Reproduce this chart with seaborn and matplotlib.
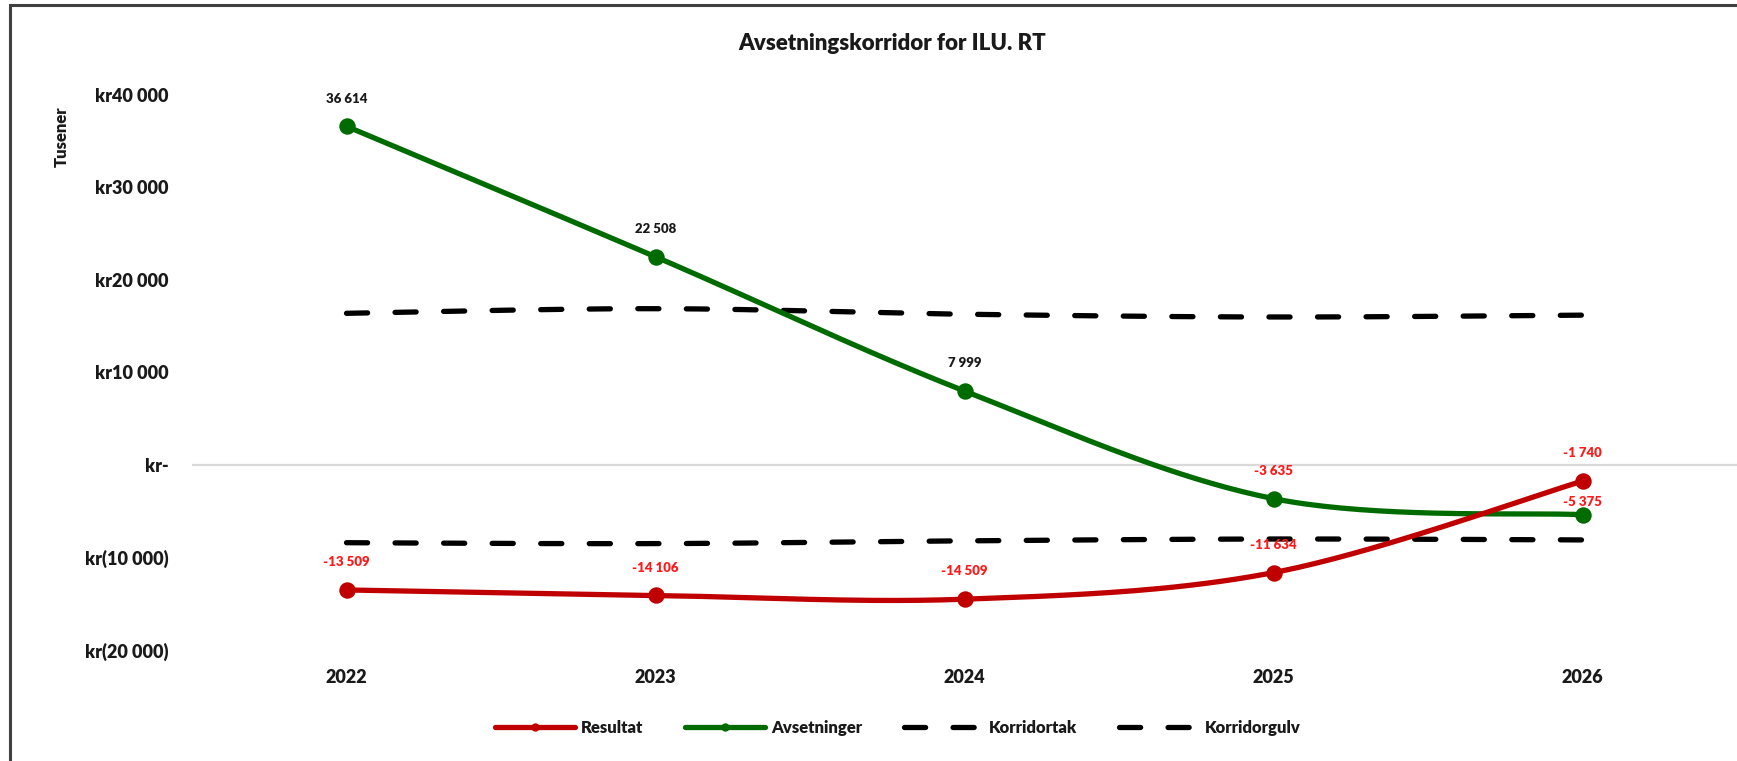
import numpy as np
import pandas as pd
import matplotlib
matplotlib.use("Agg")
import matplotlib.pyplot as plt
from matplotlib.lines import Line2D
from matplotlib.patches import Rectangle
import seaborn as sns

# data
years = ["2022", "2023", "2024", "2025", "2026"]
resultat = [-13509, -14106, -14509, -11634, -1740]
avsetninger = [36614, 22508, 7999, -3635, -5375]
korridortak = [16400, 16900, 16300, 16000, 16200]
korridorgulv = [-8400, -8500, -8200, -8000, -8100]
yticks = [-20000, -10000, 0, 10000, 20000, 30000, 40000]
ytick_labels = ["kr(20 000)", "kr(10 000)", "kr-", "kr10 000", "kr20 000", "kr30 000", "kr40 000"]

RED = "#c00000"
GREEN = "#006b00"
TXT = "#1a1a1a"
LABEL_RED = "#ff1a1a"
WT = "heavy"


def smooth(y, n=40):
    # Excel style smoothed line: cubic bezier with catmull-rom control points
    y = np.asarray(y, dtype=float)
    x = np.arange(len(y), dtype=float)
    px, py = [], []
    for i in range(len(y) - 1):
        x0, y0 = x[i], y[i]
        x3, y3 = x[i + 1], y[i + 1]
        xp, yp = (x[i - 1], y[i - 1]) if i > 0 else (x0, y0)
        xn, yn = (x[i + 2], y[i + 2]) if i + 2 < len(y) else (x3, y3)
        x1, y1 = x0 + (x3 - xp) / 6, y0 + (y3 - yp) / 6
        x2, y2 = x3 - (xn - x0) / 6, y3 - (yn - y0) / 6
        t = np.linspace(0, 1, n, endpoint=(i == len(y) - 2))
        a, b, c, d = (1 - t) ** 3, 3 * (1 - t) ** 2 * t, 3 * (1 - t) * t ** 2, t ** 3
        px.append(a * x0 + b * x1 + c * x2 + d * x3)
        py.append(a * y0 + b * y1 + c * y2 + d * y3)
    return pd.DataFrame({"x": np.concatenate(px), "y": np.concatenate(py)})


sns.set_theme(style="white")
plt.rcParams["font.family"] = ["Lato", "DejaVu Sans"]

W, H = 1737, 761
fig = plt.figure(figsize=(W / 100, H / 100), dpi=100)
ax = fig.add_axes([192 / W, 1 - 650 / H, (W - 192) / W, (650 - 95) / H])

ax.axhline(0, color="#d9d9d9", lw=1.6, zorder=1)

# corridor lines
for vals in (korridortak, korridorgulv):
    s = smooth(vals)
    sns.lineplot(data=s, x="x", y="y", sort=False, ax=ax, color="black", lw=3.8, zorder=2)
    ax.lines[-1].set_dashes([4.0, 5.2])
    ax.lines[-1].set_dash_capstyle("round")

# main series
for vals, col in ((avsetninger, GREEN), (resultat, RED)):
    s = smooth(vals)
    sns.lineplot(data=s, x="x", y="y", sort=False, ax=ax, color=col, lw=3.8, zorder=3)
    sns.scatterplot(x=np.arange(len(vals)), y=vals, ax=ax, color=col, s=140,
                    edgecolor=col, linewidth=0, zorder=4)


def fmt(v):
    return f"{v:,}".replace(",", " ")


label_off = {("a", 4): 9}
for i, v in enumerate(avsetninger):
    ax.annotate(fmt(v), (i, v), xytext=(0, label_off.get(("a", i), 20)),
                textcoords="offset points", ha="center", va="center",
                fontsize=9.5, fontweight=WT, color=TXT if v >= 0 else LABEL_RED)
for i, v in enumerate(resultat):
    ax.annotate(fmt(v), (i, v), xytext=(0, 20), textcoords="offset points",
                ha="center", va="center", fontsize=9.5, fontweight=WT,
                color=LABEL_RED)

ax.set_xlim(-0.5, 4.5)
ax.set_ylim(-20000, 40000)
ax.set_xticks(range(len(years)))
ax.set_xticklabels(years, fontsize=13, fontweight=WT, color=TXT)
ax.set_yticks(yticks)
ax.set_yticklabels(ytick_labels, fontsize=13, fontweight=WT, color=TXT)
ax.tick_params(axis="x", length=0, pad=14)
ax.tick_params(axis="y", length=0, pad=17)
ax.set_xlabel("")
ax.set_ylabel("")
for sp in ax.spines.values():
    sp.set_visible(False)

fig.text(892 / W, 1 - 43 / H, "Avsetningskorridor for ILU. RT", ha="center", va="center",
         fontsize=16, fontweight=WT, color=TXT)
fig.text(62 / W, 1 - 137 / H, "Tusener", rotation=90, ha="center", va="center",
         fontsize=12, fontweight=WT, color=TXT)

handles = [
    Line2D([], [], color=RED, lw=3.8, marker="o", markersize=5),
    Line2D([], [], color=GREEN, lw=3.8, marker="o", markersize=5),
    Line2D([], [], color="black", lw=3.8, dashes=[4.0, 5.2], dash_capstyle="round"),
    Line2D([], [], color="black", lw=3.8, dashes=[4.0, 5.2], dash_capstyle="round"),
]
fig.legend(handles, ["Resultat", "Avsetninger", "Korridortak", "Korridorgulv"],
           loc="center", bbox_to_anchor=(898 / W, 1 - 728 / H), ncol=4, frameon=False,
           handlelength=4.8, handletextpad=0.35, columnspacing=2.5,
           prop={"size": 12, "weight": WT}, labelcolor=TXT)

# frame of the chart object (cropped at right and bottom)
fig.add_artist(Rectangle((10 / W, -0.2), 2.0, 1.2 - 5 / H, transform=fig.transFigure,
                         fill=False, edgecolor="#404040", lw=2.2))

fig.savefig("out.png", dpi=100, facecolor="white")
